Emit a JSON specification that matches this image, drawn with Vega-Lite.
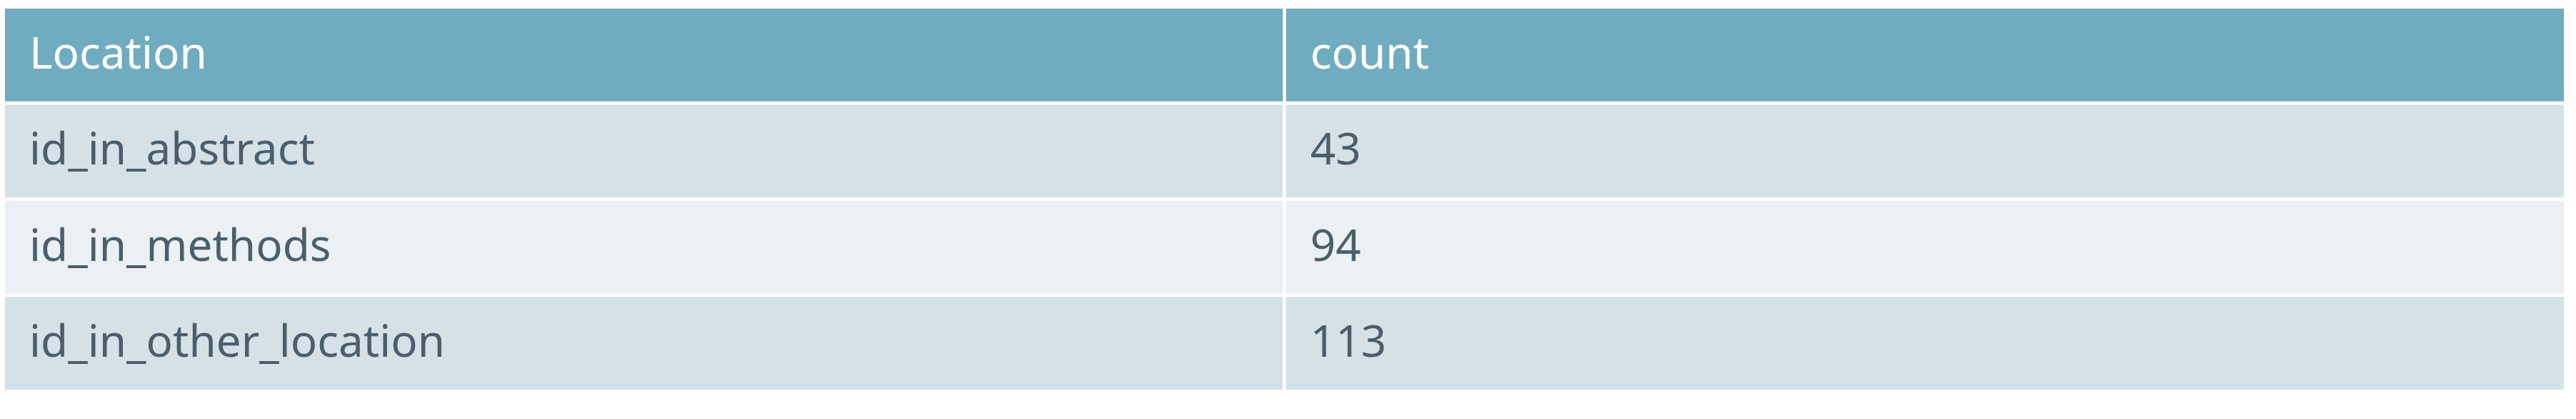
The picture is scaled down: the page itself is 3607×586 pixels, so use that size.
{
  "$schema": "https://vega.github.io/schema/vega-lite/v6.json",
  "width": 3607, "height": 586, "padding": 0, "autosize": "none",
  "background": "white",
  "config": {"view": {"stroke": null}},
  "data": {"values": [
    {"row": "h", "col": "Location", "text": "Location", "kind": "header"},
    {"row": "h", "col": "count", "text": "count", "kind": "header"},
    {"row": "r1", "col": "Location", "text": "id_in_abstract", "kind": "odd"},
    {"row": "r1", "col": "count", "text": "43", "kind": "odd"},
    {"row": "r2", "col": "Location", "text": "id_in_methods", "kind": "even"},
    {"row": "r2", "col": "count", "text": "94", "kind": "even"},
    {"row": "r3", "col": "Location", "text": "id_in_other_location", "kind": "odd"},
    {"row": "r3", "col": "count", "text": "113", "kind": "odd"}
  ]},
  "encoding": {
    "x": {"field": "col", "type": "nominal", "axis": null, "sort": ["Location", "count"],
          "scale": {"range": [7, 3590], "paddingInner": 0.0025, "paddingOuter": 0}},
    "y": {"field": "row", "type": "nominal", "axis": null, "sort": ["h", "r1", "r2", "r3"],
          "scale": {"range": [12, 545], "paddingInner": 0.035, "paddingOuter": 0}}
  },
  "layer": [
    {"mark": {"type": "rect"},
     "encoding": {"color": {"field": "kind", "type": "nominal", "legend": null,
        "scale": {"domain": ["header", "odd", "even"], "range": ["#70acc0", "#d4e2e8", "#eaf0f4"]}}}},
    {"mark": {"type": "text", "align": "left", "baseline": "middle", "dx": 34, "fontSize": 62, "font": "Noto Sans"},
     "encoding": {
       "x": {"field": "col", "type": "nominal", "bandPosition": 0, "sort": ["Location", "count"]},
       "text": {"field": "text"},
       "color": {"condition": {"test": "datum.kind === 'header'", "value": "white"}, "value": "#4a5f6b"},
       "fontWeight": {"condition": {"test": "datum.kind === 'header'", "value": "bold"}, "value": "normal"}
     }}
  ]
}
